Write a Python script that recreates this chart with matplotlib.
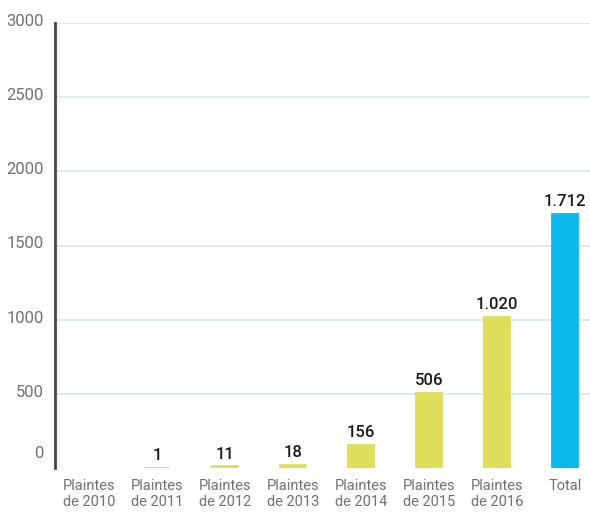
import matplotlib
matplotlib.use("Agg")
import matplotlib.pyplot as plt
from matplotlib.transforms import ScaledTranslation

categories = ["Plaintes\nde 2010", "Plaintes\nde 2011", "Plaintes\nde 2012", "Plaintes\nde 2013",
              "Plaintes\nde 2014", "Plaintes\nde 2015", "Plaintes\nde 2016", "Total"]
values = [0, 1, 11, 18, 156, 506, 1020, 1712]
y_ticks = [0, 500, 1000, 1500, 2000, 2500, 3000]

YELLOW = "#dede5a"
BLUE = "#0cb9ec"
colors = [YELLOW] * 7 + [BLUE]

plt.rcParams["font.family"] = ["Roboto", "DejaVu Sans"]

fig = plt.figure(figsize=(5.9, 5.12), dpi=100)
ax = fig.add_axes([55 / 590, 1 - 468 / 512, 1 - 55 / 590, (468 - 23) / 512])

x = list(range(len(categories)))
# thin edge in the bar colour keeps the smallest non-zero bars visible
edge_widths = [1.3 if v > 0 else 0 for v in values]
ax.bar(x, values, width=0.39, color=colors, edgecolor=colors, linewidth=edge_widths, zorder=3)

def fmt(v):
    return f"{v:,}".replace(",", ".")

for xi, v in zip(x, values):
    if v > 0:
        ax.annotate(fmt(v), (xi, v), xytext=(0, 3.5), textcoords="offset points",
                    ha="center", va="bottom", fontsize=12, fontweight="medium",
                    color="#1a1a1a")

ax.set_xlim(-0.5, 7.37)
ax.set_ylim(0, 3000)
ax.set_yticks(y_ticks)
ax.set_yticklabels([str(t) for t in y_ticks])
ax.set_xticks(x)
ax.set_xticklabels(categories, fontsize=10.5, color="#707070", linespacing=1.2)

for t in y_ticks[1:]:
    ax.axhline(t, color="#d6ebe6", lw=1.2, zorder=1)

for s in ["top", "right", "bottom"]:
    ax.spines[s].set_visible(False)
ax.spines["left"].set_color("#444444")
ax.spines["left"].set_linewidth(2)
ax.tick_params(axis="both", length=0)
ax.tick_params(axis="y", labelsize=12, labelcolor="#707070", pad=8)
ax.tick_params(axis="x", pad=8)

for lbl in ax.get_yticklabels():
    lbl.set_verticalalignment("bottom")
    lbl.set_transform(lbl.get_transform() + ScaledTranslation(0, -6 / 100, fig.dpi_scale_trans))
ax.get_yticklabels()[0].set_transform(
    ax.get_yticklabels()[0].get_transform() + ScaledTranslation(0, 13 / 100, fig.dpi_scale_trans))

fig.savefig("out.png", dpi=100)
